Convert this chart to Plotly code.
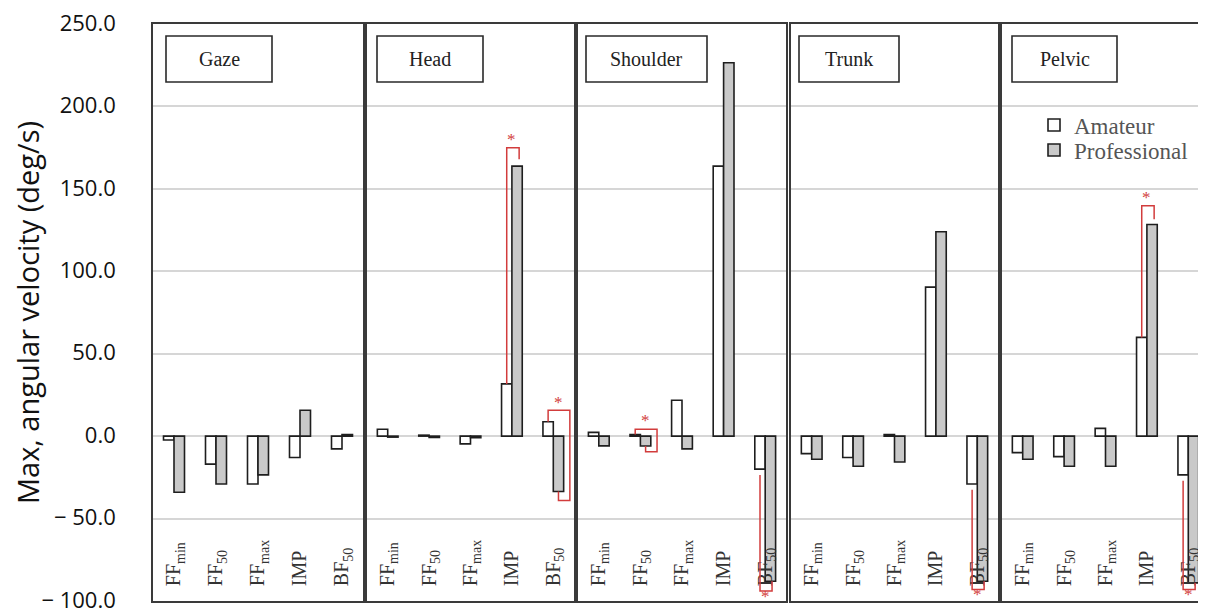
import plotly.graph_objects as go

# ---------------- data ----------------
panels = ["Gaze", "Head", "Shoulder", "Trunk", "Pelvic"]
categories = ["FFmin", "FF50", "FFmax", "IMP", "BF50"]
tick_labels = ["FF<sub>min</sub>", "FF<sub>50</sub>", "FF<sub>max</sub>", "IMP", "BF<sub>50</sub>"]

gaze_amateur = [-2.3, -17.0, -29.0, -13.0, -7.7]
gaze_pro = [-34.0, -29.0, -23.5, 15.7, 1.0]
head_amateur = [4.2, 0.6, -4.7, 31.7, 8.7]
head_pro = [-0.6, -0.8, -1.0, 163.8, -33.6]
shoulder_amateur = [2.3, 1.0, 21.8, 163.8, -20.0]
shoulder_pro = [-5.9, -6.0, -7.7, 226.5, -88.0]
trunk_amateur = [-10.6, -13.0, 1.0, 90.4, -29.0]
trunk_pro = [-14.0, -18.3, -15.7, 124.0, -88.0]
pelvic_amateur = [-10.0, -12.4, 4.7, 59.9, -23.5]
pelvic_pro = [-14.0, -18.3, -18.3, 128.4, -89.0]

amateur = [gaze_amateur, head_amateur, shoulder_amateur, trunk_amateur, pelvic_amateur]
professional = [gaze_pro, head_pro, shoulder_pro, trunk_pro, pelvic_pro]

y_tickvals = [250, 200, 150, 100, 50, 0, -50, -100]
y_ticktext = ["250.0", "200.0", "150.0", "100.0", "50.0", "0.0", "\u2212 50.0", "\u2212 100.0"]

# significance markers: (panel, category, kind, level, extra)
significance = [
    (1, 3, "up", 175.0, 168.0),
    (1, 4, "right", 15.7, -39.0),
    (2, 1, "right", 4.2, -9.5),
    (2, 4, "down", -94.0, None),
    (3, 4, "down", -93.0, None),
    (4, 3, "up", 139.7, 131.5),
    (4, 4, "down", -93.0, None),
]

# ---------------- layout geometry (screen pixels) ----------------
OFF = 8                      # page body margin
SW, SH = 1206, 608           # screen size
W, H = SW - OFF, SH - OFF    # figure size


def px(x):
    return (x - OFF) / W


def py(y):
    return 1 - (y - OFF) / H


panel_px = [(153, 363), (367, 574), (578, 786), (791, 998), (1002, 1209)]
plot_top, plot_bot = 24, 601
ydom = [py(plot_bot), py(plot_top)]
title_boxes = [(166, 272), (377, 483), (586, 707), (799, 899), (1012, 1117)]
box_top, box_bot = 36, 82

RED = "#d23c3c"
serif = "Liberation Serif"
bar_w = 0.25

fig = go.Figure()
layout = {}
shapes = []
annotations = []

for i, name in enumerate(panels):
    n = "" if i == 0 else str(i + 1)
    xa, ya = "x" + n, "y" + n
    fig.add_trace(go.Bar(
        x=list(range(len(categories))), y=amateur[i], name="Amateur",
        marker=dict(color="white", line=dict(color="#1e1e1e", width=1.6)),
        xaxis=xa, yaxis=ya, legend="legend", showlegend=(i == 0),
        offsetgroup="a", hovertext=categories,
    ))
    fig.add_trace(go.Bar(
        x=list(range(len(categories))), y=professional[i], name="Professional",
        marker=dict(color="#c9c9c9", line=dict(color="#1e1e1e", width=1.6)),
        xaxis=xa, yaxis=ya, legend="legend2", showlegend=(i == 0),
        offsetgroup="p", hovertext=categories,
    ))

    x0, x1 = panel_px[i]
    right = min(x1, SW)
    xr_end = -0.5 + 5 * (right - x0) / (x1 - x0)
    layout["xaxis" + n] = dict(
        domain=[px(x0), min(px(right), 1.0)], anchor=ya, range=[-0.5, xr_end],
        tickvals=list(range(len(categories))), ticktext=tick_labels,
        tickangle=-90, ticklabelposition="inside", ticks="",
        ticklabelstandoff=9, ticklabeloverflow="allow",
        tickfont=dict(family=serif, size=20, color="#333333"),
        showgrid=False, zeroline=False,
        showline=True, mirror=True, linecolor="#3a3a3a", linewidth=1.6,
        fixedrange=True,
    )
    layout["yaxis" + n] = dict(
        domain=ydom, anchor=xa, range=[-100, 250],
        tickvals=y_tickvals, ticktext=y_ticktext,
        showticklabels=(i == 0), ticks="",
        ticklabelstandoff=31, ticklabelshift=-1, ticklabeloverflow="allow",
        tickfont=dict(family="Open Sans", size=22, color="#111111"),
        gridcolor="#d6d6d6", gridwidth=1.5, zeroline=False,
        showline=True, mirror=(i < 4), linecolor="#3a3a3a", linewidth=1.6,
        fixedrange=True,
    )

    # panel title box
    bx0, bx1 = title_boxes[i]
    shapes.append(dict(type="rect", xref="paper", yref="paper",
                       x0=px(bx0), x1=px(bx1), y0=py(box_bot), y1=py(box_top),
                       line=dict(color="#2a2a2a", width=1.6), fillcolor="white"))
    annotations.append(dict(xref="paper", yref="paper", x=px((bx0 + bx1) / 2),
                            y=py((box_top + box_bot) / 2), text=name, showarrow=False,
                            font=dict(family=serif, size=20, color="#222222"),
                            xanchor="center", yanchor="middle"))

layout["yaxis"]["title"] = dict(text="Max, angular velocity (deg/s)",
                                font=dict(family="Open Sans", size=29, color="#111111"),
                                standoff=12)

# significance brackets
for (p, c, kind, level, extra) in significance:
    n = "" if p == 0 else str(p + 1)
    xa_c = c - bar_w / 2
    xp_c = c + bar_w / 2
    a_val = amateur[p][c]
    p_val = professional[p][c]
    if kind == "up":
        path = f"M{xa_c},{a_val} L{xa_c},{level} L{xp_c + 0.05},{level} L{xp_c + 0.05},{extra}"
        star = (c, level + 5)
    elif kind == "right":
        xr = c + 0.4
        path = (f"M{xa_c},{a_val} L{xa_c},{level} L{xr},{level} L{xr},{extra} "
                f"L{xp_c},{extra} L{xp_c},{p_val}")
        star = (c + 0.12, level + 5)
    else:
        path = (f"M{xa_c},{a_val - 3.5} L{xa_c},{level} L{xp_c + 0.04},{level} "
                f"L{xp_c + 0.04},{p_val}")
        star = (c, level - 3.2)
    shapes.append(dict(type="path", path=path, xref="x" + n, yref="y" + n,
                       line=dict(color=RED, width=1.5), layer="above"))
    annotations.append(dict(xref="x" + n, yref="y" + n, x=star[0], y=star[1], text="*",
                            showarrow=False, font=dict(family=serif, size=17, color=RED),
                            xanchor="center", yanchor="middle"))

legend_style = dict(xanchor="left", yanchor="middle", bgcolor="rgba(0,0,0,0)",
                    itemwidth=30, font=dict(family=serif, size=23, color="#555555"))

fig.update_layout(
    **layout,
    width=W, height=H,
    margin=dict(l=0, r=0, t=0, b=0, autoexpand=False),
    paper_bgcolor="white", plot_bgcolor="white",
    barmode="group", bargap=0.5, bargroupgap=0.0,
    shapes=shapes, annotations=annotations,
    legend=dict(x=px(1034), y=py(125), **legend_style),
    legend2=dict(x=px(1034), y=py(150), **legend_style),
    showlegend=True,
)

fig.write_html("out.html")
